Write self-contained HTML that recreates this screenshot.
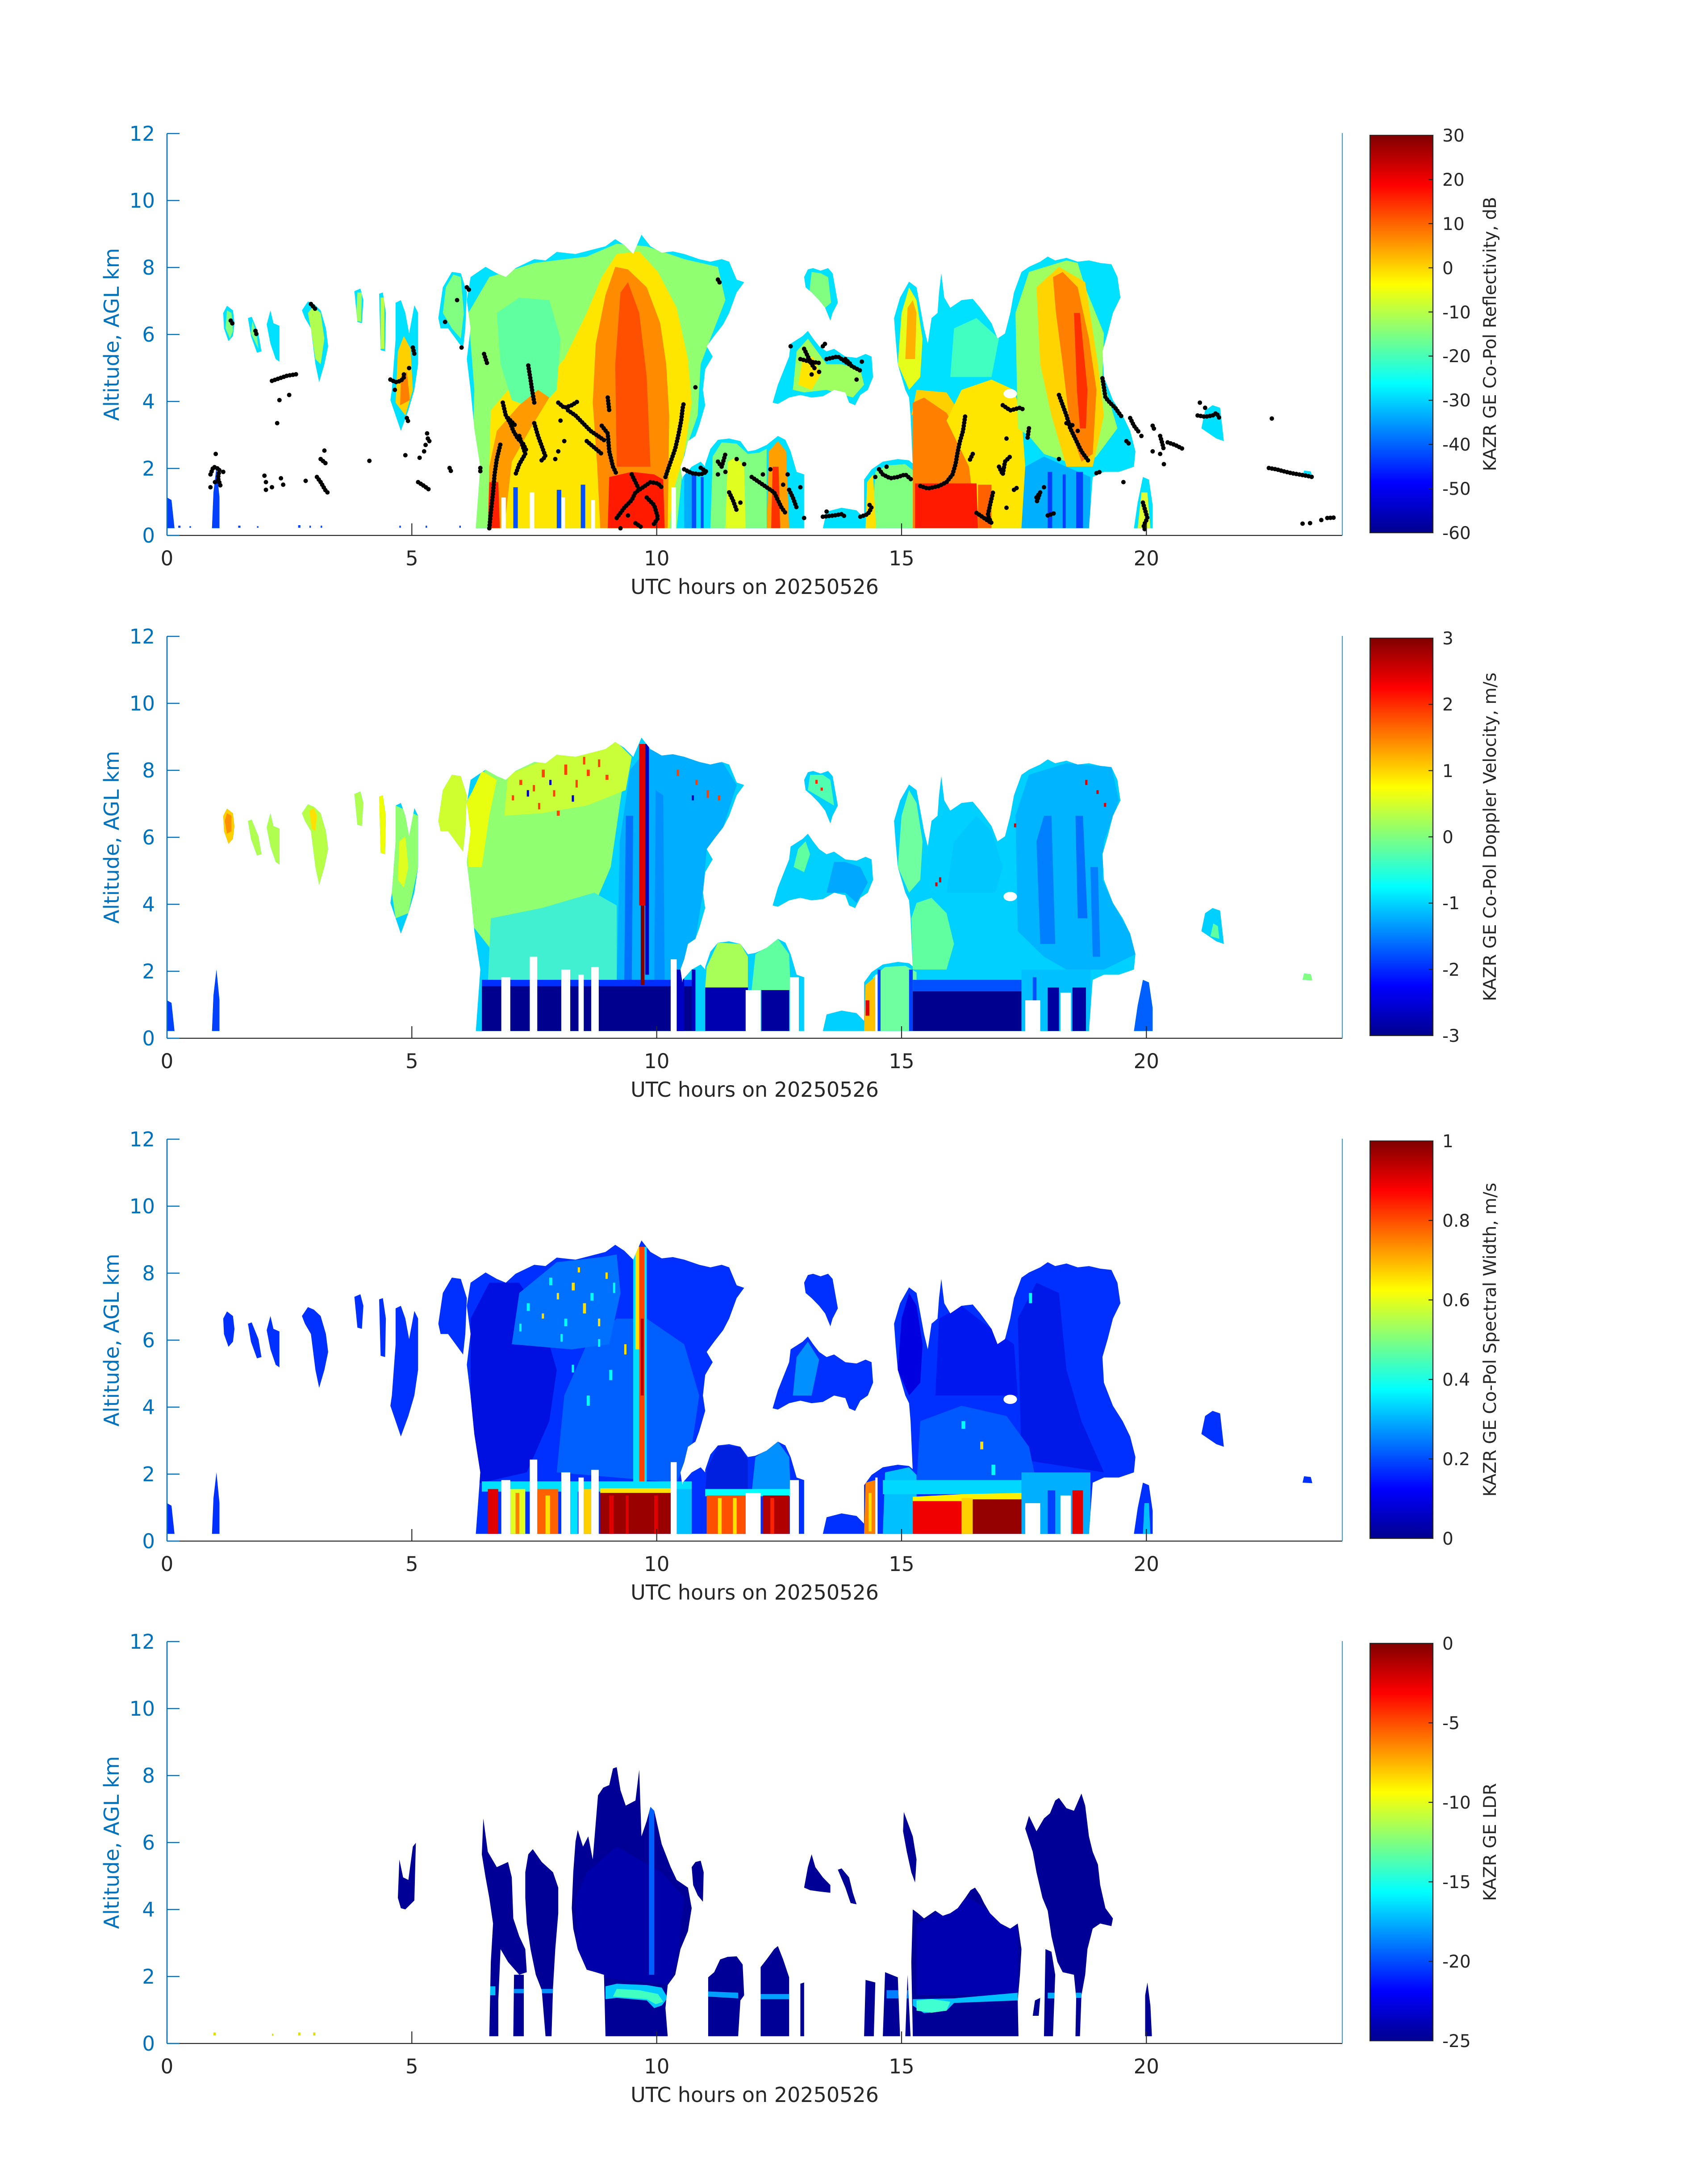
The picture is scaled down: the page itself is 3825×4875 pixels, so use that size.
<!DOCTYPE html>
<html><head><meta charset="utf-8"><style>
html,body{margin:0;padding:0;background:#fff;}
svg{display:block;}
text{font-family:"DejaVu Sans","Liberation Sans",sans-serif;}
</style></head><body>
<svg width="3825" height="4875" viewBox="0 0 3825 4875" xmlns="http://www.w3.org/2000/svg">
<defs>
<linearGradient id="jet" x1="0" y1="1" x2="0" y2="0">
<stop offset="0" stop-color="#00008F"/><stop offset="0.125" stop-color="#0000FF"/><stop offset="0.375" stop-color="#00FFFF"/><stop offset="0.625" stop-color="#FFFF00"/><stop offset="0.875" stop-color="#FF0000"/><stop offset="1" stop-color="#800000"/>
</linearGradient>
<polygon id="pA" points="412,1540 418,1300 410,1150 405,1000 400,880 405,760 400,650 405,560 425,520 440,545 452,560 465,525 490,490 505,495 520,462 545,470 565,455 585,440 598,412 610,435 622,470 633,395 645,440 660,465 675,460 690,470 700,480 710,490 725,500 740,490 750,500 760,570 770,580 760,620 750,700 742,745 730,790 720,830 728,870 718,920 715,1000 718,1060 710,1140 705,1180 695,1200 690,1260 685,1300 690,1400 680,1540"/>
<polygon id="pA0" points="362,720 368,600 380,540 392,545 400,620 398,760 395,840 385,800 375,760 365,760"/>
<polygon id="pB" points="300,1000 305,800 305,660 312,650 318,700 323,780 330,670 335,700 335,900 330,1000 322,1080 312,1160 305,1100 298,1040"/>
<polygon id="pC" points="283,625 288,620 292,700 291,850 285,845"/>
<polygon id="pD" points="250,615 258,605 262,650 260,740 254,735"/>
<polygon id="pE" points="180,690 188,655 196,665 205,690 212,760 215,830 210,900 203,970 198,900 192,760 184,720"/>
<polygon id="pF" points="75,700 80,672 88,690 90,740 88,790 82,810 76,760"/>
<polygon id="pG1" points="108,720 113,715 122,780 126,850 120,855 112,790"/>
<polygon id="pG2" points="133,745 138,690 142,740 150,750 150,890 145,880 138,820"/>
<polygon id="pH" points="718,1540 718,1290 725,1230 735,1195 750,1190 765,1200 775,1240 785,1235 800,1215 815,1180 825,1195 832,1240 840,1320 850,1330 850,1540"/>
<polygon id="pH0" points="680,1540 688,1340 700,1300 712,1280 718,1300 718,1540"/>
<polygon id="pI" points="808,1050 815,980 830,870 832,820 848,790 855,770 862,800 870,830 880,850 890,840 905,870 920,875 932,860 940,870 942,950 935,1000 925,1020 918,1060 910,1050 905,1010 890,1000 875,1025 860,1030 845,1020 830,1030 815,1055"/>
<polygon id="pJ" points="850,560 855,530 862,525 872,535 882,525 888,545 895,660 888,700 885,730 878,680 870,650 860,620 852,600"/>
<polygon id="pK" points="930,1540 930,1350 940,1310 955,1280 975,1270 990,1275 1000,1300 1000,1540"/>
<polygon id="pK0" points="875,1540 880,1475 900,1460 920,1470 930,1500 930,1540"/>
<polygon id="pL" points="995,1540 995,1300 992,1100 990,1030 985,1000 975,900 972,800 970,720 978,640 990,578 1000,600 1005,680 1010,760 1015,820 1020,720 1028,700 1030,620 1033,545 1037,640 1045,680 1060,650 1075,645 1085,680 1090,700 1100,740 1108,800 1118,780 1125,700 1130,620 1140,540 1150,520 1165,500 1175,480 1185,495 1200,485 1215,500 1230,495 1245,505 1260,510 1268,560 1272,640 1262,700 1255,780 1248,850 1250,950 1262,1040 1275,1100 1285,1160 1292,1240 1290,1300 1270,1320 1250,1320 1235,1340 1230,1540"/>
<polygon id="pM" points="1290,1540 1295,1440 1302,1340 1310,1350 1315,1450 1315,1540"/>
<polygon id="pN" points="1380,1150 1385,1080 1395,1060 1405,1070 1410,1200 1400,1190 1390,1170"/>
<polygon id="pO1" points="0,1540 0,1420 6,1430 10,1540"/>
<polygon id="pO2" points="60,1540 62,1400 66,1300 70,1420 70,1540"/>
<polygon id="pP" points="1515,1340 1517,1315 1526,1318 1528,1342"/>
<clipPath id="m">
<use href="#pA"/><use href="#pA0"/><use href="#pB"/><use href="#pC"/><use href="#pD"/><use href="#pE"/><use href="#pF"/><use href="#pG1"/><use href="#pG2"/><use href="#pH"/><use href="#pH0"/><use href="#pI"/><use href="#pJ"/><use href="#pK"/><use href="#pK0"/><use href="#pL"/><use href="#pM"/><use href="#pN"/><use href="#pO1"/><use href="#pO2"/><use href="#pP"/>
</clipPath>
<clipPath id="m4">
<polygon points="308,1000 310,850 315,920 322,930 328,800 332,785 330,1010 318,1045 312,1040"/>
<polygon points="420,830 422,690 428,820 440,880 455,860 460,920 462,1080 470,1150 478,1200 480,1290 470,1300 455,1250 445,1200 442,1400 442,1540 430,1540 432,1250 435,1100 430,1000 425,920"/>
<polygon points="478,900 482,830 488,810 500,860 515,900 522,960 522,1060 518,1200 515,1350 513,1540 505,1540 500,1360 492,1300 485,1200 480,1100 478,1000"/>
<polygon points="462,1540 463,1300 476,1300 476,1540"/>
<polygon points="540,1040 542,900 545,780 548,735 555,800 562,760 568,850 575,600 582,570 590,560 595,495 600,490 605,580 612,640 625,620 630,500 633,760 640,700 645,645 650,660 660,790 672,880 680,930 695,960 700,1040 695,1130 685,1200 678,1300 668,1340 665,1430 668,1540 585,1540 583,1300 572,1290 560,1280 548,1200 542,1120"/>
<polygon points="700,880 705,860 712,855 716,900 715,1015 708,990 702,950"/>
<polygon points="722,1540 722,1310 730,1290 738,1240 748,1230 760,1228 768,1260 770,1380 765,1400 762,1540"/>
<polygon points="792,1540 792,1270 800,1240 810,1200 815,1188 822,1240 830,1310 830,1540"/>
<polygon points="845,1540 845,1335 850,1330 850,1540"/>
<polygon points="850,960 855,880 860,830 865,880 875,920 885,950 885,980 870,975 858,970"/>
<polygon points="895,890 900,885 910,920 915,980 920,1025 912,1020 905,960"/>
<polygon points="982,740 983,665 990,720 995,760 1000,850 998,940 993,900 987,820"/>
<polygon points="930,1540 932,1320 945,1330 943,1540"/>
<polygon points="955,1540 958,1290 975,1310 978,1540"/>
<polygon points="985,1540 988,1300 992,1540"/>
<polygon points="995,1540 993,1250 995,1045 1002,1060 1010,1080 1025,1050 1035,1070 1045,1060 1055,1040 1065,1000 1072,970 1078,960 1085,990 1090,1020 1098,1060 1105,1080 1112,1100 1125,1120 1135,1100 1140,1200 1138,1300 1135,1400 1136,1540"/>
<polygon points="1145,730 1150,680 1160,740 1170,690 1178,670 1185,620 1190,610 1200,650 1210,660 1220,593 1225,640 1230,760 1235,820 1242,870 1245,950 1252,1040 1262,1080 1260,1110 1245,1100 1235,1120 1228,1200 1225,1300 1220,1380 1218,1540 1212,1540 1213,1390 1210,1300 1195,1290 1188,1250 1180,1150 1175,1050 1168,1000 1160,900 1155,820"/>
<polygon points="1170,1540 1172,1200 1180,1210 1185,1300 1182,1540"/>
<polygon points="1155,1460 1158,1400 1165,1390 1163,1460"/>
<polygon points="1305,1540 1305,1380 1308,1330 1312,1420 1314,1540"/>
</clipPath>
</defs>
<rect x="0" y="0" width="3825" height="4875" fill="#fff"/>

<!-- ================= PANEL 1 : Reflectivity ================= -->
<g transform="translate(374,299) scale(1.678571,0.573980)">
<g clip-path="url(#m)">
<rect x="0" y="0" width="1568" height="1568" fill="#00E0FF"/>
<polygon points="405,1540 410,1000 402,700 430,560 490,505 560,480 600,430 640,440 690,490 735,520 745,650 725,800 712,900 708,1100 690,1250 680,1540" fill="#90FF70"/>
<polygon points="428,1540 432,1080 455,1000 500,980 530,880 560,700 580,560 600,470 630,460 655,540 680,680 695,880 700,1050 690,1250 675,1400 670,1540" fill="#FFE600"/>
<polygon points="445,900 440,700 470,640 510,650 525,800 520,1000 495,1080 460,1040" fill="#60FFA0"/>
<polygon points="578,1540 574,1300 568,1050 572,820 585,630 598,520 615,530 640,600 658,740 666,900 670,1100 668,1540" fill="#FF8C00"/>
<polygon points="428,1540 430,1300 440,1160 470,1060 495,1000 510,1030 485,1150 460,1280 450,1540" fill="#FF9A00"/>
<polygon points="600,1300 598,900 605,620 615,580 630,700 640,950 645,1300" fill="#FF5000"/>
<polygon points="588,1540 590,1340 620,1320 650,1330 662,1350 664,1540" fill="#FF1A00"/>
<polygon points="428,1540 430,1360 442,1360 444,1540" fill="#FF2000"/>
<rect x="462" y="1380" width="6" height="160" fill="#0050FF"/><rect x="520" y="1390" width="6" height="150" fill="#0050FF"/><rect x="552" y="1370" width="6" height="170" fill="#0050FF"/><rect x="690" y="1320" width="10" height="220" fill="#00B0FF"/><rect x="700" y="1330" width="6" height="210" fill="#0050FF"/><rect x="712" y="1340" width="4" height="200" fill="#0050FF"/>
<polygon points="368,700 372,600 382,550 392,560 396,700 392,800 380,760" fill="#80FF80"/>
<polygon points="305,1050 308,850 316,790 325,840 328,1000 318,1100" fill="#FFD000"/>
<polygon points="311,1060 312,950 320,930 324,1040" fill="#FF8000"/>
<polygon points="285,840 285,640 290,640 290,840" fill="#C0FF40"/>
<polygon points="252,730 254,620 260,620 259,735" fill="#A0FF60"/>
<polygon points="188,700 195,675 205,700 210,800 205,900 198,880 193,780" fill="#B0FF50"/>
<polygon points="78,760 80,690 86,700 88,770 84,800" fill="#80FF80"/>
<polygon points="112,780 114,730 120,790 122,840" fill="#80FF80"/>
<polygon points="725,1540 728,1260 740,1205 760,1210 775,1250 790,1245 800,1230 800,1540" fill="#80FF80"/>
<polygon points="745,1540 748,1280 760,1260 770,1300 772,1540" fill="#E0FF20"/>
<polygon points="800,1540 803,1240 815,1200 826,1240 830,1540" fill="#FFA000"/>
<polygon points="806,1540 808,1300 816,1300 818,1540" fill="#FF3000"/>
<polygon points="835,1000 840,850 855,800 870,860 880,900 900,900 925,920 930,980 915,1030 880,1000 850,1010" fill="#A0FF60"/>
<polygon points="842,980 848,880 862,870 872,940 860,1000" fill="#FFE600"/>
<polygon points="857,620 860,540 872,545 882,560 886,660 878,680" fill="#80FF80"/>
<polygon points="940,1540 945,1320 960,1295 985,1290 998,1320 998,1540" fill="#80FF80"/>
<polygon points="932,1540 934,1360 942,1330 946,1540" fill="#FFE000"/>
<polygon points="975,900 980,700 990,600 1000,650 1008,800 1005,950 990,1000" fill="#E6FF1A"/>
<polygon points="985,880 988,680 995,650 1000,700 998,880" fill="#FFB000"/>
<polygon points="993,1100 1000,1000 1040,1010 1060,1100 1045,1120 1010,1060" fill="#FFD000"/>
<polygon points="995,1540 995,1050 1010,1030 1040,1090 1062,1200 1072,1300 1082,1540" fill="#FF8000"/>
<polygon points="1040,1120 1060,1000 1100,960 1130,1000 1140,1100 1145,1300 1140,1540 1080,1540 1070,1300" fill="#FFE600"/>
<polygon points="998,1540 998,1365 1080,1365 1082,1540" fill="#FF1A00"/>
<polygon points="1082,1540 1082,1370 1100,1370 1100,1540" fill="#FF6000"/>
<polygon points="1045,950 1050,760 1080,720 1110,800 1100,950" fill="#40FFC0"/>
<polygon points="1135,1150 1132,700 1150,540 1200,495 1215,505 1225,600 1250,780 1248,950 1258,1050 1268,1150 1240,1260 1220,1300 1170,1250 1150,1180" fill="#A0FF60"/>
<polygon points="1160,600 1190,520 1225,580 1242,900 1250,1100 1235,1300 1200,1300 1180,1100 1165,900" fill="#FFD400"/>
<polygon points="1182,560 1195,540 1215,600 1230,800 1240,1000 1235,1250 1220,1280 1205,1150 1195,900 1186,700" fill="#FF8000"/>
<polygon points="1210,700 1218,700 1228,1000 1226,1150 1218,1150 1214,1000" fill="#FF3000"/>
<polygon points="1140,1540 1145,1300 1170,1260 1200,1300 1232,1340 1232,1540" fill="#00B0FF"/>
<rect x="1175" y="1320" width="6" height="220" fill="#0040FF"/><rect x="1213" y="1320" width="9" height="220" fill="#0040FF"/><rect x="1195" y="1330" width="4" height="210" fill="#0040FF"/>
<polygon points="1295,1540 1300,1400 1308,1400 1312,1540" fill="#E0FF30"/>
<rect x="0" y="1300" width="80" height="240" fill="#0040FF"/>
</g>
<ellipse cx="1125" cy="1015" rx="9" ry="18" fill="#fff"/>
<rect x="446" y="1420" width="6" height="122" fill="#fff"/><rect x="484" y="1400" width="6" height="142" fill="#fff"/><rect x="526" y="1420" width="5" height="122" fill="#fff"/><rect x="566" y="1430" width="5" height="112" fill="#fff"/><rect x="673" y="1380" width="6" height="162" fill="#fff"/>
<g fill="#0040FF"><rect x="15" y="1530" width="3" height="8"/><rect x="30" y="1532" width="2" height="6"/><rect x="95" y="1530" width="3" height="8"/><rect x="120" y="1532" width="2" height="6"/><rect x="175" y="1528" width="3" height="10"/><rect x="190" y="1530" width="2" height="8"/><rect x="205" y="1530" width="2" height="8"/><rect x="310" y="1530" width="2" height="8"/><rect x="345" y="1530" width="2" height="8"/><rect x="390" y="1530" width="2" height="8"/></g>
<path fill="none" stroke="#000" stroke-width="10" stroke-linecap="round" stroke-linejoin="round" stroke-dasharray="0 7" vector-effect="non-scaling-stroke" d="M58 1330L62 1300L70 1310L68 1345L72 1380M85 730L88 745M118 770L120 790M140 965L150 955L160 945L175 938M192 665L198 685M205 1270L213 1290M200 1340L205 1360L212 1395L216 1405M298 960L305 970L312 965L318 945M328 835L330 860M320 1110L322 1125M335 1360L343 1375L350 1390M377 1305L380 1325M400 600L403 610M418 1305L418 1320M423 860L428 905M430 1540L432 1480L435 1400L437 1330L440 1270L445 1210M448 1050L452 1100L458 1130L462 1160L468 1190L475 1210L480 1240M455 1110L465 1140M470 1180L478 1250L470 1290L465 1330M490 1130L495 1180L500 1220L505 1260L498 1280M482 905L485 960L487 1000L490 1050M522 1050L530 1070L540 1060L548 1045M535 1080L545 1100L555 1130L565 1160L575 1180L585 1200M580 1140L588 1170L590 1240L595 1300L600 1330M588 1030L590 1080M560 1200L580 1250M600 1500L610 1460L620 1430L625 1400L635 1380L645 1360L655 1365L660 1380M620 1330L630 1390M640 1420L650 1450L655 1500L648 1530M625 1520L635 1540M665 1340L672 1280L678 1230L682 1180L686 1120L688 1070L690 1045M735 570L738 585M690 1310L700 1325L712 1330L720 1320L710 1300M735 1280L740 1300L745 1250M750 1400L755 1430L760 1470M780 1340L790 1360L800 1380L810 1400L815 1430L820 1460L825 1480M830 1390L835 1420L840 1460M850 840L855 870L860 900L865 920M845 880L858 890L870 895M875 830L878 820M880 880L895 870L905 890L915 910L925 925M905 880L912 900M875 1495L890 1490L900 1485L905 1495M925 1495L935 1485L940 1460L935 1440M950 1310L955 1330L965 1345L975 1340L985 1330L995 1355M1005 1375L1015 1385L1030 1375L1040 1360L1048 1330L1052 1290L1055 1240L1058 1200L1062 1160L1065 1100M1075 1250L1070 1280M1080 1480L1090 1500L1100 1520L1095 1490L1098 1450L1102 1400M1110 1300L1115 1330L1118 1280L1125 1260M1130 1390L1135 1380M1115 1060L1125 1080L1138 1070L1145 1080M1150 1150L1148 1190M1160 1420L1165 1400L1160 1440M1175 1490L1185 1480M1190 1020L1195 1060L1200 1100L1205 1150L1210 1180L1215 1210L1220 1240L1225 1260L1230 1280M1200 1130L1210 1140M1240 1325L1245 1320M1248 955L1250 990L1252 1030L1258 1050L1265 1070L1270 1090L1275 1110M1285 1110L1290 1140L1298 1170M1280 1200L1285 1215M1315 1140L1318 1160M1325 1180L1328 1210L1330 1235M1335 1205L1345 1215L1355 1230M1302 1440L1305 1470L1308 1500L1303 1530L1305 1550M1375 1100L1385 1105L1395 1100L1400 1090L1405 1115M1470 1305L1480 1310L1490 1318L1500 1325L1510 1330L1520 1335L1528 1340M1548 1500L1560 1498"/>
<path fill="none" stroke="#000" stroke-width="10" stroke-linecap="round" vector-effect="non-scaling-stroke" d="M58 1380h0M64 1360h0M75 1320h0M65 1250h0M150 1040h0M163 1020h0M147 1130h0M130 1335h0M132 1360h0M140 1380h0M152 1345h0M155 1370h0M132 1390h0M185 1355h0M210 1237h0M270 1277h0M304 1000h0M323 915h0M316 940h0M347 1170h0M348 1190h0M345 1215h0M350 1200h0M343 1240h0M318 1255h0M337 1265h0M371 735h0M387 650h0M393 835h0M525 1120h0M530 1200h0M518 1270h0M522 1240h0M605 1540h0M615 1490h0M705 990h0M760 1270h0M770 1290h0M735 1330h0M745 1320h0M765 1440h0M805 1310h0M795 1330h0M845 1380h0M850 1500h0M822 1370h0M828 1330h0M832 830h0M920 960h0M927 890h0M870 930h0M860 940h0M880 1475h0M960 1300h0M945 1340h0M1120 1460h0M1120 1190h0M1170 1380h0M1215 1160h0M1190 1270h0M1300 1180h0M1315 1240h0M1325 1250h0M1330 1290h0M1378 1050h0M1385 1070h0M1474 1112h0M1515 1522h0M1525 1520h0M1540 1508h0M1276 1360h0"/>
</g>

<!-- ================= PANEL 2 : Doppler ================= -->
<g transform="translate(374,1425) scale(1.678571,0.573980)">
<g clip-path="url(#m)">
<rect x="0" y="0" width="1568" height="1568" fill="#00D0FF"/>
<polygon points="400,1100 398,650 425,520 490,490 560,455 598,412 612,500 602,700 592,900 570,1050 530,1200 480,1280 440,1250" fill="#90FF70"/>
<polygon points="402,900 400,650 420,525 440,560 430,700 420,900" fill="#E8FF10"/>
<polygon points="450,700 455,540 520,462 600,412 620,470 612,600 560,660 500,690" fill="#C8FF38"/>
<polygon points="428,1360 432,1100 500,1060 570,1000 600,1050 600,1360" fill="#40F0D0"/>
<polygon points="600,1360 604,800 618,520 640,440 700,470 742,495 760,580 742,745 720,830 715,1000 705,1180 690,1300 686,1360" fill="#00AEFF"/>
<polygon points="610,1360 612,700 622,700 620,1360" fill="#0070FF"/>
<polygon points="650,1360 652,600 662,620 664,1360" fill="#0090FF"/>
<rect x="420" y="1340" width="280" height="28" fill="#0030FF"/>
<rect x="420" y="1365" width="280" height="180" fill="#00008F"/>
<rect x="638" y="420" width="5" height="900" fill="#0000C0"/>
<rect x="630" y="420" width="8" height="630" fill="#E00000"/>
<rect x="632" y="1050" width="5" height="310" fill="#800000"/>
<g fill="#FF4000"><rect x="470" y="560" width="4" height="20"/><rect x="500" y="520" width="4" height="30"/><rect x="515" y="600" width="3" height="25"/><rect x="530" y="500" width="4" height="40"/><rect x="545" y="560" width="3" height="30"/><rect x="560" y="520" width="4" height="25"/><rect x="575" y="480" width="3" height="30"/><rect x="585" y="540" width="4" height="20"/><rect x="495" y="650" width="3" height="25"/><rect x="520" y="680" width="4" height="20"/><rect x="460" y="620" width="3" height="20"/><rect x="680" y="520" width="3" height="25"/><rect x="705" y="560" width="3" height="20"/><rect x="720" y="600" width="3" height="30"/><rect x="735" y="620" width="3" height="20"/><rect x="555" y="470" width="3" height="30"/><rect x="488" y="580" width="3" height="25"/></g>
<g fill="#0000C0"><rect x="480" y="600" width="3" height="25"/><rect x="540" y="620" width="3" height="25"/><rect x="700" y="620" width="3" height="20"/><rect x="510" y="560" width="3" height="20"/></g>
<polygon points="300,1000 305,800 305,660 335,700 335,900 322,1080 305,1100" fill="#90FF70"/>
<polygon points="308,950 310,800 318,780 322,900 316,980" fill="#E0FF20"/>
<polygon points="283,625 288,620 292,700 291,850 285,845" fill="#F0FF00"/>
<polygon points="250,615 258,605 262,650 260,740 254,735" fill="#B0FF50"/>
<polygon points="180,690 188,655 196,665 205,690 212,760 215,830 210,900 203,970 198,900 192,760 184,720" fill="#B8FF48"/>
<polygon points="190,680 196,670 200,700 198,760 193,750" fill="#FFE000"/>
<polygon points="75,700 80,672 88,690 90,740 88,790 82,810 76,760" fill="#FFD000"/>
<polygon points="77,720 80,690 86,700 86,760 80,770" fill="#FF9000"/>
<polygon points="108,720 113,715 122,780 126,850 120,855 112,790" fill="#B0FF50"/>
<polygon points="133,745 138,690 142,740 150,750 150,890 145,880 138,820" fill="#B0FF50"/>
<polygon points="362,720 368,600 380,540 392,545 400,620 398,760 395,840 385,800 375,760 365,760" fill="#D0FF30"/>
<polygon points="718,1370 720,1290 735,1195 765,1200 775,1250 775,1370" fill="#A8FF58"/>
<polygon points="780,1380 785,1240 815,1180 830,1240 832,1380" fill="#60FFA0"/>
<rect x="718" y="1370" width="57" height="175" fill="#0000B0"/>
<rect x="793" y="1380" width="37" height="165" fill="#00009F"/>
<rect x="680" y="1300" width="10" height="245" fill="#0000C0"/><rect x="700" y="1300" width="5" height="245" fill="#0000C0"/>
<polygon points="880,1000 890,880 905,880 925,900 935,960 920,1040 905,1000" fill="#00A8FF"/>
<polygon points="836,900 842,830 852,800 858,850 850,920" fill="#60FFA0"/>
<polygon points="855,600 858,540 875,540 885,560 890,660" fill="#50FFB0"/>
<rect x="865" y="560" width="3" height="15" fill="#FF2000"/><rect x="872" y="590" width="3" height="12" fill="#FF2000"/>
<polygon points="940,1540 942,1330 958,1290 985,1285 1000,1310 1000,1540" fill="#70FFA0"/>
<polygon points="930,1540 932,1360 944,1330 946,1540" fill="#FFC000"/>
<rect x="932" y="1420" width="5" height="60" fill="#E00000"/>
<rect x="948" y="1300" width="4" height="240" fill="#0040FF"/><rect x="990" y="1300" width="5" height="240" fill="#0040FF"/>
<polygon points="975,900 980,700 990,600 1000,650 1008,800 1005,950 990,1000" fill="#70FFA0"/>
<polygon points="995,1300 993,1100 1000,1040 1020,1020 1040,1080 1050,1200 1040,1300" fill="#60FFA0"/>
<polygon points="1040,1000 1050,800 1080,700 1100,760 1115,900 1105,1000" fill="#00C8FF"/>
<rect x="995" y="1340" width="145" height="50" fill="#0050FF"/>
<rect x="995" y="1385" width="145" height="160" fill="#00008F"/>
<polygon points="1135,1150 1132,700 1150,540 1200,495 1260,510 1270,640 1250,800 1248,950 1262,1040 1285,1160 1292,1240 1250,1300 1200,1300 1170,1250" fill="#00B4FF"/>
<polygon points="1165,1200 1160,800 1170,700 1180,700 1185,1200" fill="#0080FF"/>
<polygon points="1215,1100 1212,700 1222,700 1228,1100" fill="#0070FF"/>
<polygon points="1235,1250 1232,900 1242,900 1245,1250" fill="#0080FF"/>
<rect x="1140" y="1300" width="92" height="245" fill="#00C0FF"/>
<rect x="1175" y="1370" width="15" height="175" fill="#0000A0"/><rect x="1208" y="1370" width="18" height="175" fill="#0000A0"/><rect x="1155" y="1330" width="5" height="210" fill="#0050FF"/>
<g fill="#E00000"><rect x="1225" y="560" width="3" height="20"/><rect x="1240" y="600" width="3" height="15"/><rect x="1250" y="650" width="3" height="15"/><rect x="1130" y="730" width="3" height="15"/><rect x="1105" y="740" width="3" height="15"/><rect x="1030" y="940" width="3" height="20"/><rect x="1025" y="960" width="3" height="15"/></g>
<polygon points="1290,1540 1295,1440 1302,1340 1310,1350 1315,1450 1315,1540" fill="#0060FF"/>
<polygon points="1392,1170 1396,1120 1402,1130 1404,1180" fill="#60FFA0"/>
<rect x="0" y="1300" width="80" height="240" fill="#0040FF"/>
<polygon points="1515,1340 1517,1315 1526,1318 1528,1342" fill="#80FF80"/>
</g>
<g fill="#fff"><rect x="446" y="1330" width="12" height="212"/><rect x="484" y="1250" width="10" height="292"/><rect x="526" y="1300" width="12" height="242"/><rect x="549" y="1320" width="7" height="222"/><rect x="566" y="1290" width="10" height="252"/><rect x="672" y="1260" width="8" height="282"/><rect x="772" y="1380" width="20" height="162"/><rect x="831" y="1330" width="12" height="212"/><rect x="1145" y="1420" width="20" height="122"/><rect x="1192" y="1390" width="14" height="152"/><rect x="945" y="1320" width="3" height="222"/><ellipse cx="1125" cy="1015" rx="9" ry="18"/></g>
</g>

<!-- ================= PANEL 3 : Spectral width ================= -->
<g transform="translate(374,2551) scale(1.678571,0.573980)">
<g clip-path="url(#m)">
<rect x="0" y="0" width="1568" height="1568" fill="#0030FF"/>
<polygon points="405,1350 405,700 430,560 470,560 500,700 520,900 510,1100 480,1300" fill="#0010E0"/>
<polygon points="1140,1250 1135,700 1160,560 1190,600 1200,900 1220,1100 1250,1300" fill="#0018E8"/>
<polygon points="975,900 980,700 990,600 1000,650 1008,800 1005,950 990,1000" fill="#0000E0"/>
<polygon points="1025,1000 1030,700 1060,650 1100,740 1130,800 1135,1000" fill="#0018F0"/>
<polygon points="520,1300 530,1000 560,800 600,700 640,700 690,800 710,1000 700,1200 680,1340" fill="#0060FF"/>
<polygon points="1000,1340 1005,1100 1060,1040 1120,1080 1150,1200 1160,1340" fill="#0058FF"/>
<polygon points="460,800 470,600 520,480 580,460 600,450 605,600 590,800 540,820" fill="#0070FF"/>
<g fill="#FFE000"><rect x="540" y="560" width="4" height="30"/><rect x="555" y="640" width="4" height="40"/><rect x="520" y="600" width="3" height="25"/><rect x="575" y="700" width="3" height="30"/><rect x="500" y="680" width="3" height="20"/><rect x="610" y="800" width="3" height="40"/><rect x="1085" y="1180" width="4" height="30"/><rect x="585" y="520" width="3" height="25"/><rect x="548" y="500" width="3" height="20"/></g>
<g fill="#00FFFF"><rect x="530" y="700" width="4" height="30"/><rect x="565" y="600" width="4" height="30"/><rect x="480" y="640" width="4" height="30"/><rect x="590" y="900" width="4" height="40"/><rect x="560" y="1000" width="4" height="40"/><rect x="1100" y="1270" width="5" height="40"/><rect x="1060" y="1100" width="5" height="30"/><rect x="1150" y="600" width="4" height="40"/><rect x="850" y="850" width="4" height="60"/><rect x="510" y="540" width="4" height="30"/><rect x="470" y="720" width="3" height="30"/><rect x="595" y="560" width="3" height="40"/><rect x="525" y="760" width="3" height="30"/><rect x="575" y="780" width="3" height="30"/><rect x="540" y="880" width="3" height="30"/></g>
<rect x="622" y="420" width="18" height="930" fill="#00E0FF"/>
<rect x="625" y="420" width="5" height="400" fill="#FFE000"/>
<rect x="630" y="420" width="7" height="930" fill="#FF4000"/>
<rect x="632" y="700" width="4" height="300" fill="#C00000"/>
<rect x="420" y="1335" width="280" height="40" fill="#00E0FF"/>
<rect x="428" y="1365" width="14" height="180" fill="#E00000"/>
<rect x="458" y="1365" width="20" height="180" fill="#E0FF20"/><rect x="465" y="1380" width="5" height="160" fill="#FF8000"/>
<rect x="494" y="1365" width="28" height="180" fill="#FF6000"/><rect x="505" y="1390" width="6" height="150" fill="#FFE000"/>
<rect x="538" y="1365" width="10" height="180" fill="#00E0FF"/>
<rect x="556" y="1365" width="10" height="180" fill="#FFD000"/>
<rect x="578" y="1362" width="94" height="22" fill="#FFE000"/>
<rect x="578" y="1380" width="94" height="165" fill="#9A0000"/>
<rect x="590" y="1390" width="6" height="150" fill="#E00000"/><rect x="612" y="1390" width="4" height="150" fill="#E00000"/><rect x="650" y="1390" width="5" height="150" fill="#E00000"/>
<rect x="680" y="1365" width="20" height="180" fill="#00C0FF"/>
<polygon points="718,1380 720,1290 735,1195 765,1200 775,1250 775,1380" fill="#0020E0"/>
<polygon points="780,1380 785,1240 815,1180 830,1240 832,1380" fill="#0090FF"/>
<rect x="718" y="1365" width="115" height="28" fill="#00FFFF"/>
<rect x="720" y="1390" width="52" height="155" fill="#FF5000"/><rect x="735" y="1400" width="5" height="140" fill="#FFE000"/><rect x="755" y="1400" width="5" height="140" fill="#FFE000"/>
<rect x="795" y="1390" width="35" height="155" fill="#B00000"/><rect x="805" y="1400" width="5" height="140" fill="#FF2000"/>
<polygon points="835,1000 840,850 855,790 870,860 860,1000" fill="#0090FF"/>
<polygon points="930,1540 932,1340 945,1330 946,1540" fill="#FF8000"/>
<rect x="936" y="1380" width="4" height="150" fill="#FFE000"/>
<polygon points="955,1540 958,1300 990,1280 1000,1310 1000,1540" fill="#00C0FF"/>
<rect x="955" y="1330" width="185" height="55" fill="#00D8FF"/>
<polygon points="995,1420 995,1395 1060,1385 1140,1380 1140,1410 1060,1415" fill="#FFF000"/>
<rect x="995" y="1412" width="65" height="133" fill="#F00000"/>
<rect x="1060" y="1400" width="15" height="145" fill="#FFD000"/>
<rect x="1075" y="1405" width="65" height="140" fill="#950000"/>
<rect x="1140" y="1300" width="92" height="245" fill="#00B0FF"/>
<rect x="1208" y="1370" width="14" height="175" fill="#E00000"/><rect x="1175" y="1370" width="10" height="175" fill="#0040FF"/>
<polygon points="1302,1540 1304,1420 1310,1420 1312,1540" fill="#00C0FF"/>
</g>
<g fill="#fff"><rect x="446" y="1330" width="12" height="212"/><rect x="484" y="1250" width="10" height="292"/><rect x="526" y="1300" width="12" height="242"/><rect x="549" y="1320" width="7" height="222"/><rect x="566" y="1290" width="10" height="252"/><rect x="672" y="1260" width="8" height="282"/><rect x="772" y="1380" width="20" height="162"/><rect x="831" y="1330" width="12" height="212"/><rect x="1145" y="1420" width="20" height="122"/><rect x="1192" y="1390" width="14" height="152"/><rect x="945" y="1320" width="3" height="222"/><ellipse cx="1125" cy="1015" rx="9" ry="18"/></g>
</g>

<!-- ================= PANEL 4 : LDR ================= -->
<g transform="translate(374,3676) scale(1.678571,0.573980)">
<g clip-path="url(#m4)">
<rect x="0" y="0" width="1568" height="1568" fill="#000096"/>
<polygon points="548,1300 545,1000 560,900 600,800 660,900 690,1000 680,1250 668,1340" fill="#0000AA"/>
<polygon points="1000,1380 1000,1100 1070,1000 1135,1120 1135,1380" fill="#0000B0"/>
<rect x="643" y="645" width="7" height="655" fill="#0060FF"/>
<polygon points="585,1395 585,1345 600,1335 640,1340 660,1350 668,1390 660,1420 650,1430 640,1400 600,1390" fill="#00C8FF"/>
<polygon points="595,1385 600,1355 630,1360 655,1375 662,1405 652,1415 640,1395" fill="#40FFC0"/>
<rect x="430" y="1345" width="8" height="35" fill="#00C0FF"/>
<rect x="462" y="1355" width="18" height="17" fill="#0090FF"/>
<rect x="498" y="1355" width="17" height="17" fill="#0090FF"/>
<polygon points="722,1365 762,1370 762,1392 722,1385" fill="#00A0FF"/>
<polygon points="792,1375 830,1375 830,1395 792,1395" fill="#00A0FF"/>
<polygon points="995,1420 995,1395 1050,1392 1135,1370 1135,1400 1050,1410 1040,1440 1010,1450" fill="#00C0FF"/>
<polygon points="1000,1440 1000,1400 1020,1395 1045,1405 1040,1440 1020,1448" fill="#40FFD0"/>
<rect x="960" y="1360" width="30" height="32" fill="#0080FF"/>
<rect x="1175" y="1370" width="10" height="22" fill="#00B0FF"/>
<rect x="1210" y="1370" width="10" height="20" fill="#00B0FF"/>
</g>
<g fill="#E0E000"><rect x="62" y="1525" width="3" height="12"/><rect x="140" y="1530" width="2" height="8"/><rect x="175" y="1525" width="3" height="12"/><rect x="195" y="1525" width="3" height="12"/></g>
</g>

<!-- ================= AXES ================= -->
<g id="axes">
<g stroke-width="2.2" fill="none">
<line x1="374" y1="1199" x2="3006" y2="1199" stroke="#262626"/>
<line x1="374" y1="2325" x2="3006" y2="2325" stroke="#262626"/>
<line x1="374" y1="3451" x2="3006" y2="3451" stroke="#262626"/>
<line x1="374" y1="4576" x2="3006" y2="4576" stroke="#262626"/>
<line x1="3006" y1="298" x2="3006" y2="1199" stroke="#4A98DA"/>
<line x1="3006" y1="1424" x2="3006" y2="2325" stroke="#4A98DA"/>
<line x1="3006" y1="2550" x2="3006" y2="3451" stroke="#4A98DA"/>
<line x1="3006" y1="3675" x2="3006" y2="4576" stroke="#4A98DA"/>
</g>
<g stroke="#262626" stroke-width="2.2">
<path d="M374 1199v-27M922.3 1199v-27M1470.7 1199v-27M2019 1199v-27M2567.3 1199v-27"/>
<path d="M374 2325v-27M922.3 2325v-27M1470.7 2325v-27M2019 2325v-27M2567.3 2325v-27"/>
<path d="M374 3451v-27M922.3 3451v-27M1470.7 3451v-27M2019 3451v-27M2567.3 3451v-27"/>
<path d="M374 4576v-27M922.3 4576v-27M1470.7 4576v-27M2019 4576v-27M2567.3 4576v-27"/>
</g>
<g stroke="#0072BD" stroke-width="2.6" fill="none">
<path d="M374 299V1199M374 299h28M374 449h28M374 599h28M374 749h28M374 899h28M374 1049h28M374 1199h28"/>
<path d="M374 1425V2325M374 1425h28M374 1575h28M374 1725h28M374 1875h28M374 2025h28M374 2175h28M374 2325h28"/>
<path d="M374 2551V3451M374 2551h28M374 2701h28M374 2851h28M374 3001h28M374 3151h28M374 3301h28M374 3451h28"/>
<path d="M374 3676V4576M374 3676h28M374 3826h28M374 3976h28M374 4126h28M374 4276h28M374 4426h28M374 4576h28"/>
</g>
<g fill="#0072BD" font-size="45" text-anchor="end">
<text x="347" y="315">12</text><text x="347" y="465">10</text><text x="347" y="615">8</text><text x="347" y="765">6</text><text x="347" y="915">4</text><text x="347" y="1065">2</text><text x="347" y="1215">0</text>
<text x="347" y="1441">12</text><text x="347" y="1591">10</text><text x="347" y="1741">8</text><text x="347" y="1891">6</text><text x="347" y="2041">4</text><text x="347" y="2191">2</text><text x="347" y="2341">0</text>
<text x="347" y="2567">12</text><text x="347" y="2717">10</text><text x="347" y="2867">8</text><text x="347" y="3017">6</text><text x="347" y="3167">4</text><text x="347" y="3317">2</text><text x="347" y="3467">0</text>
<text x="347" y="3692">12</text><text x="347" y="3842">10</text><text x="347" y="3992">8</text><text x="347" y="4142">6</text><text x="347" y="4292">4</text><text x="347" y="4442">2</text><text x="347" y="4592">0</text>
</g>
<g fill="#0072BD" font-size="46" text-anchor="middle">
<text transform="translate(266,749) rotate(-90)">Altitude, AGL km</text>
<text transform="translate(266,1875) rotate(-90)">Altitude, AGL km</text>
<text transform="translate(266,3001) rotate(-90)">Altitude, AGL km</text>
<text transform="translate(266,4126) rotate(-90)">Altitude, AGL km</text>
</g>
<g fill="#262626" font-size="45" text-anchor="middle">
<text x="374" y="1266">0</text><text x="922.3" y="1266">5</text><text x="1470.7" y="1266">10</text><text x="2019" y="1266">15</text><text x="2567.3" y="1266">20</text>
<text x="374" y="2392">0</text><text x="922.3" y="2392">5</text><text x="1470.7" y="2392">10</text><text x="2019" y="2392">15</text><text x="2567.3" y="2392">20</text>
<text x="374" y="3518">0</text><text x="922.3" y="3518">5</text><text x="1470.7" y="3518">10</text><text x="2019" y="3518">15</text><text x="2567.3" y="3518">20</text>
<text x="374" y="4643">0</text><text x="922.3" y="4643">5</text><text x="1470.7" y="4643">10</text><text x="2019" y="4643">15</text><text x="2567.3" y="4643">20</text>
</g>
<g fill="#262626" font-size="46" text-anchor="middle">
<text x="1690" y="1330">UTC hours on 20250526</text>
<text x="1690" y="2456">UTC hours on 20250526</text>
<text x="1690" y="3582">UTC hours on 20250526</text>
<text x="1690" y="4707">UTC hours on 20250526</text>
</g>
</g>

<!-- ================= COLORBARS ================= -->
<g stroke="#262626" stroke-width="2.2">
<rect x="3068" y="303" width="141" height="890" fill="url(#jet)"/>
<rect x="3068" y="1429" width="141" height="890" fill="url(#jet)"/>
<rect x="3068" y="2555" width="141" height="890" fill="url(#jet)"/>
<rect x="3068" y="3680" width="141" height="890" fill="url(#jet)"/>
<path fill="none" d="M3199 401.9h10M3199 500.8h10M3199 599.7h10M3199 698.6h10M3199 797.4h10M3199 896.3h10M3199 995.2h10M3199 1094.1h10"/>
<path fill="none" d="M3199 1577.3h10M3199 1725.7h10M3199 1874h10M3199 2022.3h10M3199 2170.7h10"/>
<path fill="none" d="M3199 2733h10M3199 2911h10M3199 3089h10M3199 3267h10"/>
<path fill="none" d="M3199 3858h10M3199 4036h10M3199 4214h10M3199 4392h10"/>
</g>
<g fill="#262626" font-size="39">
<text x="3230" y="317">30</text><text x="3230" y="416">20</text><text x="3230" y="515">10</text><text x="3230" y="614">0</text><text x="3230" y="713">-10</text><text x="3230" y="811">-20</text><text x="3230" y="910">-30</text><text x="3230" y="1009">-40</text><text x="3230" y="1108">-50</text><text x="3230" y="1207">-60</text>
<text x="3230" y="1443">3</text><text x="3230" y="1591">2</text><text x="3230" y="1740">1</text><text x="3230" y="1888">0</text><text x="3230" y="2036">-1</text><text x="3230" y="2185">-2</text><text x="3230" y="2333">-3</text>
<text x="3230" y="2569">1</text><text x="3230" y="2747">0.8</text><text x="3230" y="2925">0.6</text><text x="3230" y="3103">0.4</text><text x="3230" y="3281">0.2</text><text x="3230" y="3459">0</text>
<text x="3230" y="3694">0</text><text x="3230" y="3872">-5</text><text x="3230" y="4050">-10</text><text x="3230" y="4228">-15</text><text x="3230" y="4406">-20</text><text x="3230" y="4584">-25</text>
</g>
<g fill="#262626" font-size="39" text-anchor="middle">
<text transform="translate(3350,748) rotate(-90)">KAZR GE Co-Pol Reflectivity, dB</text>
<text transform="translate(3350,1874) rotate(-90)">KAZR GE Co-Pol Doppler Velocity, m/s</text>
<text transform="translate(3350,3000) rotate(-90)">KAZR GE Co-Pol Spectral Width, m/s</text>
<text transform="translate(3350,4125) rotate(-90)">KAZR GE LDR</text>
</g>
</svg>
</body></html>
